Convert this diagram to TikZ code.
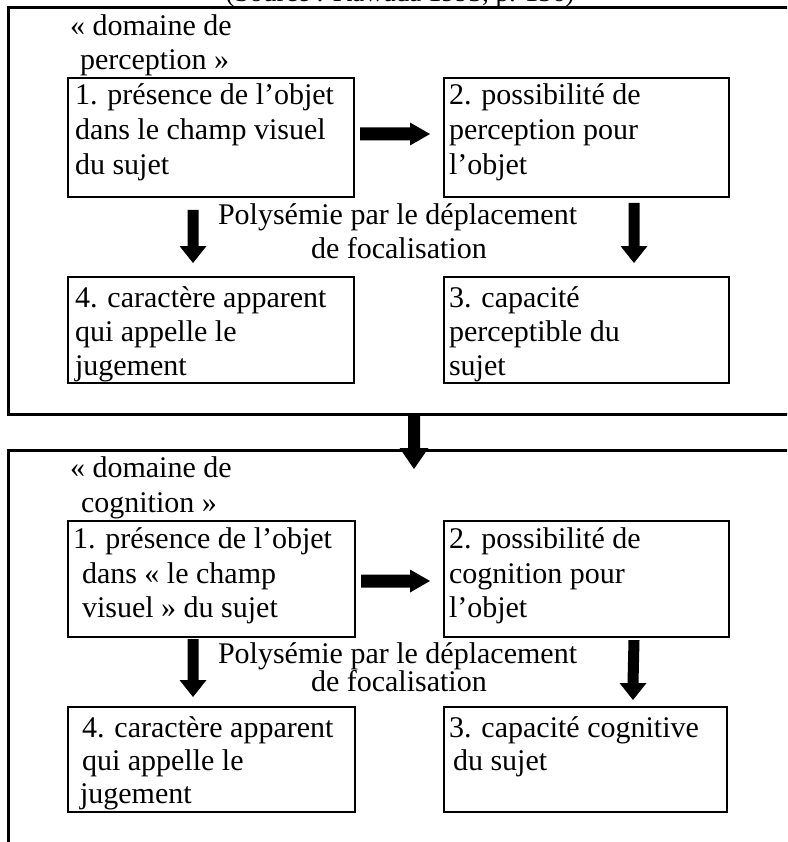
\documentclass[tikz,border=0pt]{standalone}
\usepackage{fontspec}
\setmainfont{Liberation Serif}
\usetikzlibrary{calc}
% horizontal block arrow: start, tip, half shaft, half head, head length
\newcommand\hblockarrow[5]{%
  \fill ($(#1)+(0,-#3)$) -- ($(#2)+(-#5,-#3)$) -- ($(#2)+(-#5,-#4)$) -- (#2)
    -- ($(#2)+(-#5,#4)$) -- ($(#2)+(-#5,#3)$) -- ($(#1)+(0,#3)$) -- cycle;}
% vertical (downward) block arrow
\newcommand\vblockarrow[5]{%
  \fill ($(#1)+(-#3,0)$) -- ($(#2)+(-#3,-#5)$) -- ($(#2)+(-#4,-#5)$) -- (#2)
    -- ($(#2)+(#4,-#5)$) -- ($(#2)+(#3,-#5)$) -- ($(#1)+(#3,0)$) -- cycle;}
\begin{document}
\begin{tikzpicture}[x=1pt,y=-1pt,font=\fontsize{30}{35}\selectfont,
  outerbox/.style={draw,line width=3pt,inner sep=0pt,outer sep=0pt},
  innerbox/.style={draw,line width=2.6pt,inner sep=0pt,outer sep=0pt},
  txt/.style={anchor=base west,inner sep=0pt,outer sep=0pt}]
\useasboundingbox (0,0) rectangle (787,842);
\clip (0,0) rectangle (787,842);

% caption (mostly cut off at the top)
\node[anchor=base,inner sep=0pt,font=\fontsize{27}{30}\selectfont] (src) at (400,2) {(Source : Kawada 1993, p. 156)};

% ---------- top section ----------
\node[outerbox,minimum width=792pt,minimum height=406pt] (o1) at (404,211) {};
\node[txt] (t1a) at (70,36) {« domaine de};
\node[txt] (t1b) at (80,70) {perception »};

\node[innerbox,minimum width=286pt,minimum height=119pt] (b1) at (211,137.5) {};
\node[innerbox,minimum width=285pt,minimum height=119pt] (b2) at (586.5,137.5) {};
\node[innerbox,minimum width=286pt,minimum height=106pt] (b4) at (211,330) {};
\node[innerbox,minimum width=285pt,minimum height=106pt] (b3) at (586.5,330) {};

\node[txt] (b1l1) at (75,105) {1. présence de l’objet};
\node[txt] (b1l2) at (75,140) {dans le champ visuel};
\node[txt] (b1l3) at (75,175) {du sujet};

\node[txt] (b2l1) at (449,105) {2. possibilité de};
\node[txt] (b2l2) at (449,140) {perception pour};
\node[txt] (b2l3) at (449,175) {l’objet};

\node[txt] (p1a) at (218,224) {Polysémie par le déplacement};
\node[txt] (p1b) at (311,258) {de focalisation};

\node[txt] (b4l1) at (75,307) {4. caractère apparent};
\node[txt] (b4l2) at (75,341) {qui appelle le};
\node[txt] (b4l3) at (75,375) {jugement};

\node[txt] (b3l1) at (449,307) {3. capacité};
\node[txt] (b3l2) at (449,341) {perceptible du};
\node[txt] (b3l3) at (449,375) {sujet};

\coordinate (r1s) at ([xshift=6pt,yshift=3.5pt]b1.east);
\coordinate (r1e) at ([xshift=-14pt,yshift=3.5pt]b2.west);
\hblockarrow{r1s}{r1e}{6.5}{11.5}{20}

\coordinate (d1s) at ([xshift=-18pt,yshift=-13pt]b1.south);
\coordinate (d1e) at ([xshift=-18pt,yshift=14pt]b4.north);
\vblockarrow{d1s}{d1e}{5.5}{13.5}{17}

\coordinate (d2s) at ([xshift=47.5pt,yshift=-6pt]b2.south);
\coordinate (d2e) at ([xshift=47.5pt,yshift=14pt]b3.north);
\vblockarrow{d2s}{d2e}{5.5}{13.5}{17}

% ---------- bottom section ----------
\node[outerbox,minimum width=792pt,minimum height=420pt] (o2) at (404,660) {};

\coordinate (ms) at ([xshift=10pt]o1.south);
\coordinate (me) at ([xshift=10pt,yshift=-19pt]o2.north);
\vblockarrow{ms}{me}{6}{14.5}{21}

\node[txt] (t2a) at (70,477) {« domaine de};
\node[txt] (t2b) at (81,512) {cognition »};

\node[innerbox,minimum width=287pt,minimum height=116pt] (c1) at (211.5,579) {};
\node[innerbox,minimum width=285pt,minimum height=116pt] (c2) at (586.5,579) {};
\node[innerbox,minimum width=287pt,minimum height=105pt] (c4) at (211.5,759.5) {};
\node[innerbox,minimum width=283pt,minimum height=105pt] (c3) at (585.5,759.5) {};

\node[txt] (c1l1) at (73,548) {1. présence de l’objet};
\node[txt] (c1l2) at (82,583) {dans « le champ};
\node[txt] (c1l3) at (82,617) {visuel » du sujet};

\node[txt] (c2l1) at (449,548) {2. possibilité de};
\node[txt] (c2l2) at (449,583) {cognition pour};
\node[txt] (c2l3) at (449,617) {l’objet};

\node[txt] (p2a) at (218,663) {Polysémie par le déplacement};
\node[txt] (p2b) at (311,691) {de focalisation};

\node[txt] (c4l1) at (82,737) {4. caractère apparent};
\node[txt] (c4l2) at (82,770) {qui appelle le};
\node[txt] (c4l3) at (80,803) {jugement};

\node[txt] (c3l1) at (449,737) {3. capacité cognitive};
\node[txt] (c3l2) at (453,770) {du sujet};

\coordinate (r2s) at ([xshift=6pt,yshift=-2pt]c1.east);
\coordinate (r2e) at ([xshift=-14pt,yshift=-2pt]c2.west);
\hblockarrow{r2s}{r2e}{6.5}{11.5}{20}

\coordinate (e1s) at ([xshift=-18.5pt,yshift=-2pt]c1.south);
\coordinate (e1e) at ([xshift=-18.5pt,yshift=10pt]c4.north);
\vblockarrow{e1s}{e1e}{5.5}{13.5}{17}

\coordinate (e2s) at ([xshift=47.5pt,yshift=-3pt]c2.south);
\coordinate (e2e) at ([xshift=47.5pt,yshift=7pt]c3.north);
\vblockarrow{e2s}{e2e}{5.5}{13.5}{17}
\end{tikzpicture}
\end{document}
